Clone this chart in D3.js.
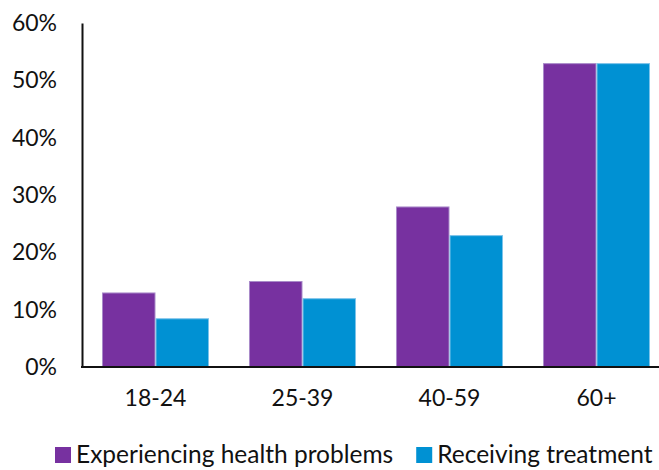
<!DOCTYPE html>
<html>
<head>
<meta charset="utf-8">
<script src="https://cdn.jsdelivr.net/npm/d3@7"></script>
<style>
  body { margin: 0; background: #fff; }
  text { font-family: "Lato", "Open Sans", sans-serif; fill: #111; }
</style>
</head>
<body>
<svg id="container" width="659" height="470"></svg>
<script>
  // values
  const categories = ['18-24', '25-39', '40-59', '60+'];
  const seriesNames = ['Experiencing health problems', 'Receiving treatment'];
  const experiencing = [0.13, 0.15, 0.28, 0.53];
  const receiving = [0.085, 0.12, 0.23, 0.53];
  const yTicks = [0, 0.1, 0.2, 0.3, 0.4, 0.5, 0.6];

  (function () {
    const colors = ['#7731a0', '#0091d3'];
    const edges = ['#a98bc9', '#7cc3ea'];

    const svg = d3.select('#container');
    const width = +svg.attr('width');

    const axisX = 82;
    const plotTop = 23;
    const plotBottom = 367;

    const y = d3.scaleLinear().domain([0, 0.6]).range([plotBottom, plotTop]);

    const x = d3.scaleBand()
      .domain(categories)
      .range([axisX, 670])
      .paddingInner(0.272)
      .paddingOuter(0.136);

    const xs = d3.scaleBand()
      .domain(seriesNames)
      .range([0, x.bandwidth()]);

    const rows = categories.map((c, i) => ({
      cat: c,
      values: [experiencing[i], receiving[i]]
    }));

    // bars
    const groups = svg.selectAll('g.group')
      .data(rows)
      .enter()
      .append('g')
      .attr('class', 'group')
      .attr('transform', d => `translate(${x(d.cat)},0)`);

    groups.selectAll('rect')
      .data(d => d.values.map((v, j) => ({ v, j })))
      .enter()
      .append('rect')
      .attr('x', d => xs(seriesNames[d.j]) + 0.5)
      .attr('y', d => y(d.v) + 0.5)
      .attr('width', xs.bandwidth() - 1)
      .attr('height', d => plotBottom - y(d.v) - 0.5)
      .attr('fill', d => colors[d.j])
      .attr('stroke', d => edges[d.j])
      .attr('stroke-width', 1);

    // y axis
    const yAxis = d3.axisLeft(y)
      .tickValues(yTicks)
      .tickFormat(d3.format('.0%'))
      .tickSize(0)
      .tickPadding(25);

    const gy = svg.append('g')
      .attr('transform', `translate(${axisX},0)`)
      .call(yAxis);
    gy.select('.domain').attr('stroke', '#111').attr('stroke-width', 2);
    gy.selectAll('text')
      .attr('font-size', 23)
      .attr('font-family', 'Lato, sans-serif')
      .attr('fill', '#111');

    // x axis
    const xAxis = d3.axisBottom(x).tickSize(0).tickPadding(23);
    const gx = svg.append('g')
      .attr('transform', `translate(0,${plotBottom})`)
      .call(xAxis);
    gx.select('.domain').remove();
    gx.append('line')
      .attr('x1', axisX - 1)
      .attr('x2', width)
      .attr('stroke', '#111')
      .attr('stroke-width', 2);
    gx.selectAll('text')
      .attr('font-size', 23)
      .attr('font-family', 'Lato, sans-serif')
      .attr('fill', '#111');

    // legend
    const legend = svg.append('g').attr('transform', 'translate(55,447)');
    let lx = 0;
    seriesNames.forEach((name, i) => {
      legend.append('rect')
        .attr('x', lx)
        .attr('y', 0)
        .attr('width', 16)
        .attr('height', 16)
        .attr('fill', colors[i]);
      const t = legend.append('text')
        .attr('x', lx + 21)
        .attr('y', 16)
        .attr('font-size', 24.5)
        .text(name);
      lx += 21 + t.node().getComputedTextLength() + 23;
    });
  })();
</script>
</body>
</html>
